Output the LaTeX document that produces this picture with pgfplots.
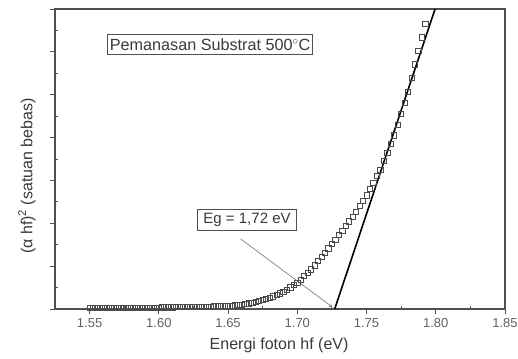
\documentclass[border=0pt]{standalone}
\usepackage{pgfplots}
\pgfplotsset{compat=1.18}
\usepackage{fontspec}
\setmainfont{Liberation Sans}
\definecolor{axgray}{HTML}{505050}
\definecolor{txtgray}{HTML}{3A3A3A}
\definecolor{mkgray}{HTML}{4A4A4A}
\begin{document}
\begin{tikzpicture}
\begin{axis}[
  name=ax,
  scale only axis,
  width=450pt, height=300pt,
  xmin=1.525, xmax=1.85,
  ymin=0, ymax=14,
  xtick={1.55,1.60,1.65,1.70,1.75,1.80,1.85},
  minor x tick num=1,
  ytick={0,2,4,6,8,10,12,14},
  minor y tick num=1,
  yticklabels={},
  xtick pos=bottom, ytick pos=left,
  tick align=outside,
  major tick length=5pt,
  minor tick length=-3pt,
  axis line style={axgray, line width=1.2pt},
  every tick/.style={axgray, line width=0.9pt},
  /pgf/number format/assume math mode=true,
  xticklabel style={/pgf/number format/fixed, /pgf/number format/fixed zerofill, /pgf/number format/precision=2, font=\fontsize{13}{15}\selectfont, text=txtgray!80, yshift=-1pt},
  xlabel={Energi foton hf (eV)},
  ylabel={(α hf)\textsuperscript{2} (satuan bebas)},
  xlabel style={at={(axis description cs:0.498,-0.12)}, anchor=center, font=\fontsize{16}{19}\selectfont, text=txtgray},
  ylabel style={at={(axis description cs:-0.062,0.443)}, anchor=center, rotate=0, font=\fontsize{16}{19}\selectfont, text=txtgray},
  clip=false,
]
\addplot[only marks, mark=square, mark size=2.6pt, mark options={mkgray, line width=0.75pt}] coordinates {
(1.5500,0.05) (1.5525,0.05) (1.5550,0.05) (1.5575,0.05) (1.5600,0.05)
(1.5625,0.05) (1.5650,0.05) (1.5675,0.05) (1.5700,0.05)
(1.5725,0.052) (1.5750,0.055) (1.5775,0.058) (1.5800,0.06)
(1.5825,0.06) (1.5850,0.06) (1.5875,0.06) (1.5900,0.06)
(1.5925,0.062) (1.5950,0.065) (1.5975,0.068) (1.6000,0.07)
(1.6025,0.072) (1.6050,0.075) (1.6075,0.078) (1.6100,0.08)
(1.6125,0.082) (1.6150,0.085) (1.6175,0.088) (1.6200,0.09)
(1.6225,0.092) (1.6250,0.095) (1.6275,0.098) (1.6300,0.10)
(1.6325,0.105) (1.6350,0.11) (1.6375,0.115) (1.6400,0.12)
(1.6425,0.128) (1.6450,0.135) (1.6475,0.142) (1.6500,0.15)
(1.6525,0.16) (1.6550,0.17) (1.6575,0.185) (1.6600,0.20)
(1.6625,0.23) (1.6650,0.26) (1.6675,0.29) (1.6700,0.32)
(1.6725,0.37) (1.6750,0.42) (1.6775,0.47) (1.6800,0.52)
(1.6825,0.59) (1.6850,0.66) (1.6875,0.73) (1.6900,0.80)
(1.6925,0.90) (1.6950,1.01) (1.6975,1.11) (1.7000,1.22)
(1.7025,1.37) (1.7050,1.53) (1.7075,1.69) (1.7100,1.85)
(1.7125,2.04) (1.7150,2.23) (1.7175,2.43) (1.7200,2.62)
(1.7225,2.83) (1.7250,3.03) (1.7275,3.24) (1.7300,3.45)
(1.7325,3.66) (1.7350,3.87) (1.7375,4.09) (1.7400,4.30)
(1.7425,4.55) (1.7450,4.80) (1.7475,5.05) (1.7500,5.30)
(1.7525,5.60) (1.7550,5.90) (1.7575,6.20) (1.7600,6.50)
(1.7625,6.90) (1.7650,7.30) (1.7675,7.70) (1.7700,8.10)
(1.7725,8.60) (1.7750,9.10) (1.7775,9.62) (1.7800,10.15)
(1.7825,10.78) (1.7850,11.42) (1.7875,12.05) (1.7900,12.68)
(1.7925,13.30)
};
\addplot[black, line width=1.6pt] coordinates {(1.727,0) (1.7995,14)};
\node[draw=axgray, line width=0.8pt, fill=white, inner xsep=2pt, inner ysep=4pt, font=\fontsize{16.2}{19}\selectfont, text=txtgray] at (axis cs:1.637,12.34) {Pemanasan Substrat 500$^{\circ}$C};
\node[draw=axgray, line width=0.8pt, fill=white, inner xsep=6pt, inner ysep=4pt, font=\fontsize{15}{18}\selectfont, text=txtgray] at (axis cs:1.6637,4.15) {Eg = 1,72 eV};
\draw[-stealth, gray, line width=0.7pt] (axis cs:1.6591,3.27) -- (axis cs:1.7255,0.08);
\end{axis}
\pgfresetboundingbox
\path ([xshift=-55pt,yshift=-49pt]ax.south west) rectangle ([xshift=13pt,yshift=9pt]ax.north east);
\end{tikzpicture}
\end{document}
